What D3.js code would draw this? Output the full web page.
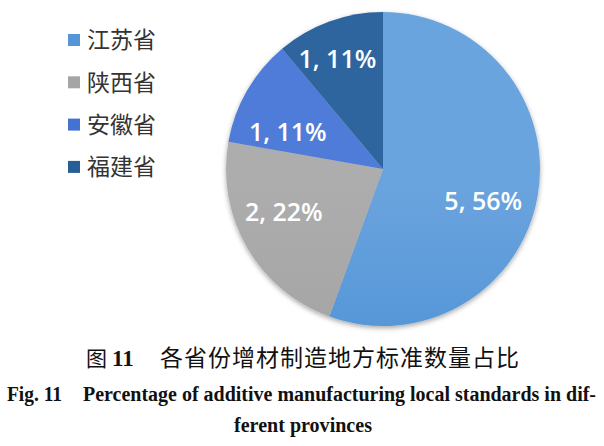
<!DOCTYPE html>
<meta charset="utf-8">
<style>
  body { margin: 0; background: #fff; }
  svg { display: block; }
</style>
<svg width="604" height="446"></svg>
<script src="https://d3js.org/d3.v7.min.js"></script>
<script>

var width = 604,
    height = 446,
    cx = 383,
    cy = 169,
    radius = 157;

// data
var provinces = ["江苏省", "陕西省", "安徽省", "福建省"];
var counts = [5, 2, 1, 1];
var percents = ["56%", "22%", "11%", "11%"];
var colorsTop = ["#6ba4de", "#adadad", "#4f7cd8", "#2f659f"];
var colorsBottom = ["#3f88d2", "#9d9d9d", "#3868c8", "#1f568f"];

// small nudges so labels sit where the original placed them
var labelNudge = [[-8, 13], [-4, -12], [0, 18], [-8, -7]];

var svg = d3.select("svg");
var defs = svg.append("defs");

var shadow = defs.append("filter")
    .attr("id", "shadow")
    .attr("x", "-10%").attr("y", "-10%")
    .attr("width", "120%").attr("height", "120%");
shadow.append("feDropShadow")
    .attr("dx", 0).attr("dy", 2)
    .attr("stdDeviation", 2.5)
    .attr("flood-color", "#000")
    .attr("flood-opacity", 0.35);

provinces.forEach(function(p, i) {
  var g = defs.append("linearGradient")
      .attr("id", "grad" + i)
      .attr("gradientUnits", "userSpaceOnUse")
      .attr("x1", 0).attr("y1", cy - radius)
      .attr("x2", 0).attr("y2", cy + radius);
  g.append("stop").attr("offset", "0%").attr("stop-color", colorsTop[i]);
  g.append("stop").attr("offset", "100%").attr("stop-color", colorsBottom[i]);
});

var pie = d3.pie().sort(null).value(function(d) { return d; });
var arcs = pie(counts);

var arc = d3.arc().innerRadius(0).outerRadius(radius);
var labelArc = d3.arc().innerRadius(radius * 0.7).outerRadius(radius * 0.7);

var chart = svg.append("g").attr("transform", "translate(" + cx + "," + cy + ")");

chart.append("g")
    .attr("filter", "url(#shadow)")
  .selectAll("path")
  .data(arcs)
  .join("path")
    .attr("d", arc)
    .attr("fill", function(d, i) { return "url(#grad" + i + ")"; });

chart.selectAll("text.lbl")
  .data(arcs)
  .join("text")
    .attr("class", "lbl")
    .attr("transform", function(d, i) {
      var c = labelArc.centroid(d);
      return "translate(" + (c[0] + labelNudge[i][0]) + "," + (c[1] + labelNudge[i][1]) + ")";
    })
    .attr("text-anchor", "middle")
    .attr("dy", "0.36em")
    .attr("fill", "#fff")
    .style("font-family", "'Open Sans', sans-serif")
    .style("font-weight", 600)
    .style("font-size", "25px")
    .text(function(d, i) { return counts[i] + ", " + percents[i]; });

// legend
var legend = svg.append("g").attr("transform", "translate(68,40)");
var row = legend.selectAll("g")
  .data(provinces)
  .join("g")
    .attr("transform", function(d, i) { return "translate(0," + i * 42.3 + ")"; });

row.append("rect")
    .attr("x", 0).attr("y", -6)
    .attr("width", 12).attr("height", 12)
    .attr("fill", function(d, i) { return d3.interpolateRgb(colorsTop[i], colorsBottom[i])(0.5); });

row.append("text")
    .attr("x", 19)
    .attr("dy", "0.36em")
    .attr("fill", "#333")
    .style("font-family", "'Noto Sans CJK SC', sans-serif")
    .style("font-size", "23px")
    .text(function(d) { return d; });

// caption
var cap = svg.append("text")
    .attr("y", 366)
    .attr("fill", "#111");
cap.append("tspan")
    .attr("x", 86)
    .style("font-family", "'Noto Sans CJK SC', sans-serif")
    .style("font-size", "21px")
    .text("图");
cap.append("tspan")
    .attr("x", 112)
    .style("font-family", "'Liberation Serif', serif")
    .style("font-weight", "bold")
    .style("font-size", "23px")
    .text("11");
cap.append("tspan")
    .attr("x", 160)
    .attr("textLength", 359)
    .style("font-family", "'Noto Sans CJK SC', sans-serif")
    .style("font-size", "23px")
    .text("各省份增材制造地方标准数量占比");

var en = svg.append("g")
    .attr("fill", "#111")
    .style("font-family", "'Liberation Serif', serif")
    .style("font-weight", "bold")
    .style("font-size", "20px");
en.append("text")
    .attr("x", 7).attr("y", 401)
    .attr("textLength", 55)
    .attr("lengthAdjust", "spacingAndGlyphs")
    .text("Fig. 11");
en.append("text")
    .attr("x", 83).attr("y", 401)
    .attr("textLength", 513)
    .attr("lengthAdjust", "spacingAndGlyphs")
    .text("Percentage of additive manufacturing local standards in dif-");
en.append("text")
    .attr("x", 234).attr("y", 432)
    .attr("textLength", 138)
    .attr("lengthAdjust", "spacingAndGlyphs")
    .text("ferent provinces");

</script>
